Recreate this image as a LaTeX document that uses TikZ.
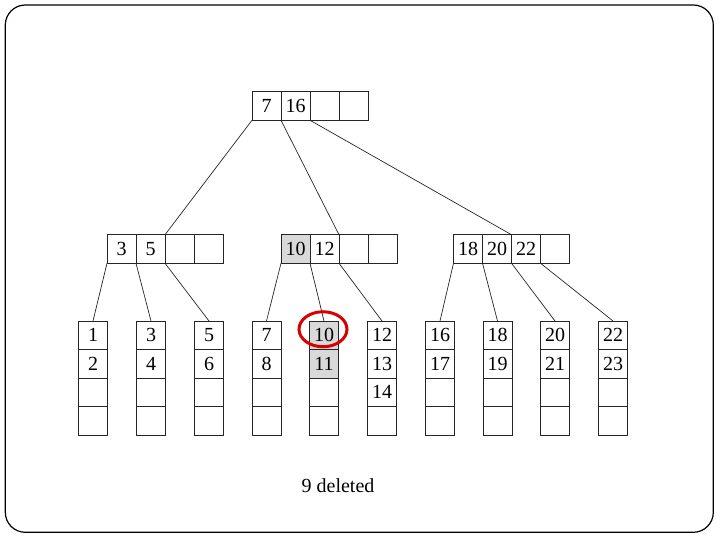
\documentclass[tikz,border=0pt]{standalone}
\usepackage{fontspec}
\setmainfont{Liberation Serif}
\usetikzlibrary{positioning}

\begin{document}
\begin{tikzpicture}[x=1pt, y=-1pt,
            every node/.style={font=\fontsize{20}{23}\selectfont},
            cell/.style={draw=black!85, line width=0.8pt, rectangle, minimum width=29pt, minimum height=28.5pt, inner sep=0pt, outer sep=0pt},
            marked/.style={cell, fill=black!15},
            link/.style={black!85, line width=0.7pt},
            ring/.style={draw=red!85!black, line width=3pt}]

            \useasboundingbox (0,0) rectangle (720,540);
            \draw [line width=1.2pt, rounded corners=20pt] (5.3,5) rectangle (713.3,532.3);

            % Root
            \node (r1) [cell] at (266.5,106) {7};
            \node (r2) [cell, right=0pt of r1] {16};
            \node (r3) [cell, right=0pt of r2] {};
            \node (r4) [cell, right=0pt of r3] {};

            % Second level
            \node (a1) [cell] at (121.5,249) {3};
            \node (a2) [cell, right=0pt of a1] {5};
            \node (a3) [cell, right=0pt of a2] {};
            \node (a4) [cell, right=0pt of a3] {};

            \node (b1) [marked] at (295.5,249) {10};
            \node (b2) [cell, right=0pt of b1] {12};
            \node (b3) [cell, right=0pt of b2] {};
            \node (b4) [cell, right=0pt of b3] {};

            \node (c1) [cell] at (468,249) {18};
            \node (c2) [cell, right=0pt of c1] {20};
            \node (c3) [cell, right=0pt of c2] {22};
            \node (c4) [cell, right=0pt of c3] {};

            % Leaves
            \foreach \n/\x/\p/\q/\s in {la/93/1/2/, lb/151/3/4/, lc/209/5/6/, ld/266.5/7/8/,
                    lf/382/12/13/14, lg/440/16/17/, lh/497.5/18/19/, li/555/20/21/, lj/613/22/23/} {
                \node (\n1) [cell] at (\x,335.25) {\p};
                \node (\n2) [cell, below=0pt of \n1] {\q};
                \node (\n3) [cell, below=0pt of \n2] {\s};
                \node (\n4) [cell, below=0pt of \n3] {};
            }
            \node (le1) [marked] at (324,335.25) {10};
            \node (le2) [marked, below=0pt of le1] {11};
            \node (le3) [cell, below=0pt of le2] {};
            \node (le4) [cell, below=0pt of le3] {};

            % Links
            \draw [link] (r1.south west) -- (a2.north east);
            \draw [link] (r1.south east) -- (b2.north east);
            \draw [link] (r2.south east) -- (c2.north east);

            \draw [link] (a1.south west) -- (la1.north);
            \draw [link] (a1.south east) -- (lb1.north);
            \draw [link] (a2.south east) -- (lc1.north);

            \draw [link] (b1.south west) -- (ld1.north);
            \draw [link] (b1.south east) -- (le1.north);
            \draw [link] (b2.south east) -- (lf1.north);

            \draw [link] (c1.south west) -- (lg1.north);
            \draw [link] (c1.south east) -- (lh1.north);
            \draw [link] (c2.south east) -- (li1.north);
            \draw [link] (c3.south east) -- (lj1.north);

            % Deleted key
            \draw [ring] ([xshift=-1pt, yshift=6pt]le1.center) ellipse [x radius=24, y radius=17.5];
            \node (caption) [anchor=base] at (338,492) {9 deleted};
        \end{tikzpicture}
\end{document}
